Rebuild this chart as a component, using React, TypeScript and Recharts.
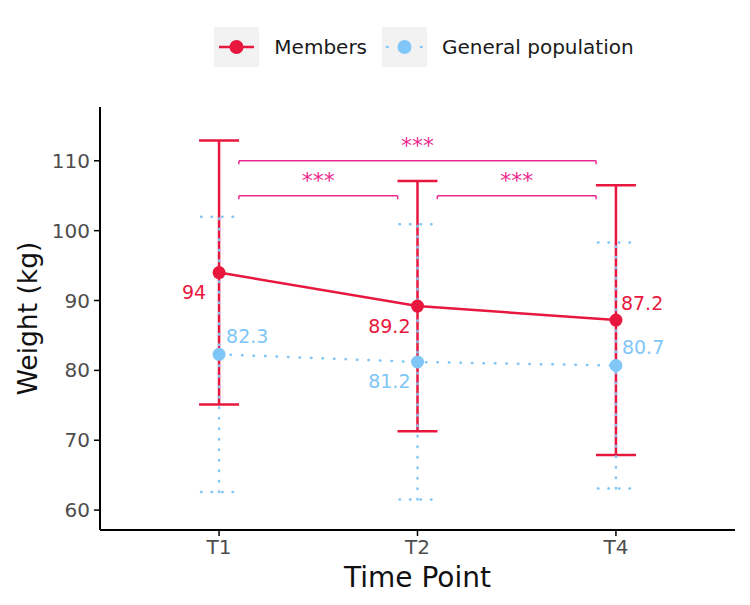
import {
  ComposedChart,
  Line,
  XAxis,
  YAxis,
  ErrorBar,
  LabelList,
  ReferenceLine,
  Legend,
} from "recharts";

// weight by time point, mean with lower / upper bar ends
const timePoints = ["T1", "T2", "T4"];
const memberMean = [94, 89.2, 87.2];
const memberLow = [75.1, 71.3, 67.9];
const memberHigh = [112.9, 107.1, 106.5];
const generalMean = [82.3, 81.2, 80.7];
const generalLow = [62.6, 61.5, 63.1];
const generalHigh = [102, 100.9, 98.3];

// pairwise comparisons drawn as brackets
const compareFrom = ["T1", "T2", "T1"];
const compareTo = ["T2", "T4", "T4"];
const compareLevel = [105, 105, 110];
const compareLabel = ["***", "***", "***"];

const yTicks = [60, 70, 80, 90, 100, 110];

const RED = "#E8173E";
const BLUE = "#80C6F7";
const PINK = "#EC2A8E";
const FONT = "DejaVu Sans";

const data = timePoints.map((tp, i) => ({
  pos: i + 1,
  tp,
  members: memberMean[i],
  membersErr: [memberMean[i] - memberLow[i], memberHigh[i] - memberMean[i]],
  general: generalMean[i],
  generalErr: [generalMean[i] - generalLow[i], generalHigh[i] - generalMean[i]],
}));

// label placement next to each point: dx, dy, anchor
const memberLabelPlace: [number, number, string][] = [
  [-13, 19, "end"],
  [-7, 20, "end"],
  [5, -17, "start"],
];
const generalLabelPlace: [number, number, string][] = [
  [7, -18, "start"],
  [-7, 19, "end"],
  [6, -18, "start"],
];

const pointLabel = (place: [number, number, string][], color: string) => (p: any) => {
  const vb = p.viewBox || {};
  const x = vb.x ?? p.x;
  const y = vb.y ?? p.y;
  const [dx, dy, anchor] = place[p.index] || [0, 0, "middle"];
  return (
    <text
      x={x + dx}
      y={y + dy}
      textAnchor={anchor}
      dominantBaseline="central"
      fill={color}
      fontSize={19}
      fontFamily={FONT}
    >
      {p.value}
    </text>
  );
};

const renderLegend = () => (
  <div
    style={{
      display: "flex",
      justifyContent: "center",
      alignItems: "center",
      height: 40,
      paddingLeft: 90,
      fontFamily: FONT,
      fontSize: 20,
      color: "#1a1a1a",
    }}
  >
    <div style={{ width: 45, height: 40, background: "#F2F2F2" }}>
      <svg width={45} height={40}>
        <line x1={5} y1={20} x2={40} y2={20} stroke={RED} strokeWidth={2.5} />
        <circle cx={22.5} cy={20} r={7} fill={RED} />
      </svg>
    </div>
    <span style={{ marginLeft: 15, marginRight: 15 }}>Members</span>
    <div style={{ width: 45, height: 40, background: "#F2F2F2" }}>
      <svg width={45} height={40}>
        <line
          x1={5}
          y1={20}
          x2={40}
          y2={20}
          stroke={BLUE}
          strokeWidth={2.5}
          strokeDasharray="0.5 16.5"
          strokeLinecap="round"
        />
        <circle cx={22.5} cy={20} r={7} fill={BLUE} />
      </svg>
    </div>
    <span style={{ marginLeft: 15 }}>General population</span>
  </div>
);

const yTitle = (p: any) => {
  const vb = p.viewBox || { x: 32, y: 99, width: 60, height: 423 };
  const cx = vb.x - 13;
  const cy = vb.y + vb.height / 2;
  return (
    <text
      x={cx}
      y={cy}
      transform={`rotate(-90, ${cx}, ${cy})`}
      textAnchor="middle"
      dominantBaseline="central"
      fontSize={26.5}
      fontFamily={FONT}
      fill="#111"
    >
      Weight (kg)
    </text>
  );
};

const xTitle = (p: any) => {
  const vb = p.viewBox || { x: 92, y: 522, width: 635, height: 60 };
  return (
    <text
      x={vb.x + vb.width / 2}
      y={vb.y + 47}
      textAnchor="middle"
      dominantBaseline="central"
      fontSize={28}
      fontFamily={FONT}
      fill="#111"
    >
      Time Point
    </text>
  );
};

export default function App() {
  const tickStyle = { fill: "#4D4D4D", fontSize: 20, fontFamily: FONT };
  const inset = 0.1;
  const drop = 0.5;

  return (
    <ComposedChart
      width={742}
      height={590}
      data={data}
      margin={{ top: 59, right: 15, bottom: 8, left: 32 }}
    >
      <Legend
        verticalAlign="top"
        wrapperStyle={{ top: 19, left: 0, width: 742 }}
        content={renderLegend}
      />
      <XAxis
        type="number"
        dataKey="pos"
        domain={[0.4, 3.6]}
        ticks={[1, 2, 3]}
        tickFormatter={(v) => timePoints[v - 1]}
        height={60}
        axisLine={{ stroke: "#000", strokeWidth: 2 }}
        tickLine={{ stroke: "#000", strokeWidth: 1.5 }}
        tickSize={6}
        tickMargin={4}
        tick={tickStyle}
        label={xTitle}
      />
      <YAxis
        type="number"
        domain={[57.15, 117.7]}
        ticks={yTicks}
        width={60}
        allowDataOverflow
        axisLine={{ stroke: "#000", strokeWidth: 2 }}
        tickLine={{ stroke: "#000", strokeWidth: 1.5 }}
        tickSize={6}
        tickMargin={4}
        tick={tickStyle}
        label={yTitle}
      />

      {compareFrom.map((from, i) => {
        const a = timePoints.indexOf(from) + 1 + inset;
        const b = timePoints.indexOf(compareTo[i]) + 1 - inset;
        const lvl = compareLevel[i];
        return [
          <ReferenceLine
            key={`h${i}`}
            segment={[
              { x: a, y: lvl },
              { x: b, y: lvl },
            ]}
            stroke={PINK}
            strokeWidth={1.5}
            label={{
              value: compareLabel[i],
              position: "top",
              offset: 8,
              fill: PINK,
              fontSize: 22,
              fontFamily: FONT,
            }}
          />,
          <ReferenceLine
            key={`l${i}`}
            segment={[
              { x: a, y: lvl },
              { x: a, y: lvl - drop },
            ]}
            stroke={PINK}
            strokeWidth={1.5}
          />,
          <ReferenceLine
            key={`r${i}`}
            segment={[
              { x: b, y: lvl },
              { x: b, y: lvl - drop },
            ]}
            stroke={PINK}
            strokeWidth={1.5}
          />,
        ];
      })}

      <Line
        dataKey="members"
        name="Members"
        stroke={RED}
        strokeWidth={2.5}
        dot={{ r: 6.5, fill: RED, stroke: RED, strokeWidth: 0 }}
        activeDot={false}
        isAnimationActive={false}
      >
        <ErrorBar
          dataKey="membersErr"
          direction="y"
          width={20}
          stroke={RED}
          strokeWidth={2.5}
        />
        <LabelList dataKey="members" content={pointLabel(memberLabelPlace, RED)} />
      </Line>
      <Line
        dataKey="general"
        name="General population"
        stroke={BLUE}
        strokeWidth={2.5}
        strokeDasharray="0.5 11"
        strokeLinecap="round"
        dot={{ r: 6.5, fill: BLUE, stroke: BLUE, strokeWidth: 0 }}
        activeDot={false}
        isAnimationActive={false}
      >
        <ErrorBar
          dataKey="generalErr"
          direction="y"
          width={18}
          stroke={BLUE}
          strokeWidth={2.5}
          strokeDasharray="0.5 10"
          strokeLinecap="round"
        />
        <LabelList dataKey="general" content={pointLabel(generalLabelPlace, BLUE)} />
      </Line>
    </ComposedChart>
  );
}
